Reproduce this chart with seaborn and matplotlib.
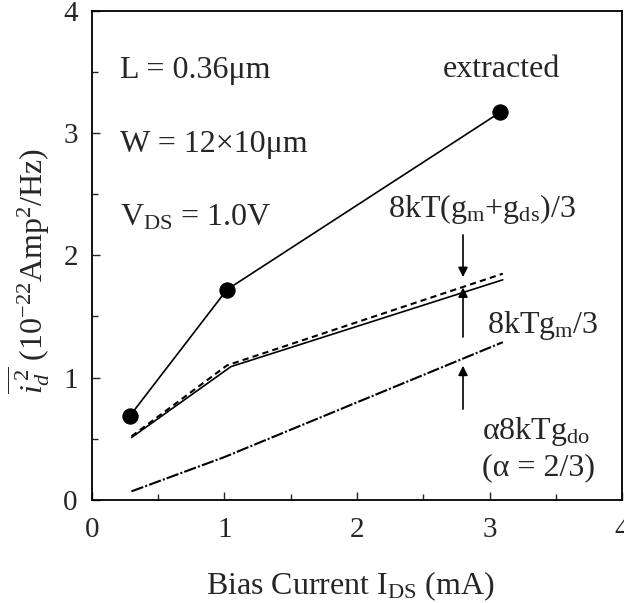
import numpy as np
import pandas as pd
import matplotlib
matplotlib.use("Agg")
import matplotlib.pyplot as plt
import seaborn as sns

# Data
ext_x = [0.29, 1.02, 3.08]
ext_y = [0.69, 1.72, 3.17]
gmgds_x = [0.30, 1.02, 3.10]
gmgds_y = [0.52, 1.10, 1.85]
gm_x = [0.30, 1.05, 3.10]
gm_y = [0.51, 1.09, 1.80]
gdo_x = [0.30, 1.00, 3.10]
gdo_y = [0.07, 0.35, 1.29]
xticks = [0, 1, 2, 3, 4]
yticks = [0, 1, 2, 3, 4]

sns.set_style("ticks")
plt.rcParams['font.family'] = ['Liberation Serif', 'DejaVu Serif']
plt.rcParams['mathtext.fontset'] = 'custom'
plt.rcParams['mathtext.rm'] = 'Liberation Serif'
plt.rcParams['mathtext.it'] = 'Liberation Serif:italic'
plt.rcParams['mathtext.bf'] = 'Liberation Serif:bold'

fig = plt.figure(figsize=(6.24, 6.03), dpi=100)
ax = fig.add_axes([0.147, 0.171, 0.850, 0.811])

df_ext = pd.DataFrame({'x': ext_x, 'y': ext_y})
df_a = pd.DataFrame({'x': gmgds_x, 'y': gmgds_y})
df_b = pd.DataFrame({'x': gm_x, 'y': gm_y})
df_c = pd.DataFrame({'x': gdo_x, 'y': gdo_y})

sns.lineplot(data=df_ext, x='x', y='y', ax=ax, color='black', lw=1.2,
             marker='o', markersize=11, markeredgecolor='black', sort=False)
sns.lineplot(data=df_a, x='x', y='y', ax=ax, color='black', lw=1.5,
             linestyle=(0, (3, 2)), sort=False)
sns.lineplot(data=df_b, x='x', y='y', ax=ax, color='black', lw=1.2, sort=False)
sns.lineplot(data=df_c, x='x', y='y', ax=ax, color='black', lw=1.5,
             linestyle=(0, (6, 1, 1, 1)), sort=False)

ax.set_xlim(0, 4)
ax.set_ylim(0, 4)
ax.set_xticks(xticks)
ax.set_yticks(yticks)
ax.set_xticks(np.arange(0.5, 4, 1), minor=True)
ax.set_yticks(np.arange(0.5, 4, 1), minor=True)
ax.tick_params(which='both', direction='in', top=False, right=False, labelsize=21)
ax.tick_params(axis='x', pad=12)
ax.tick_params(axis='y', pad=10)
ax.tick_params(which='major', length=6, width=1)
ax.tick_params(which='minor', length=4, width=1)
for s in ax.spines.values():
    s.set_linewidth(1.3)
    s.set_color('black')

ax.set_xlabel(r'Bias Current I$_{\mathrm{DS}}$ (mA)', fontsize=23)
ax.xaxis.set_label_coords(0.487, -0.143)
ax.set_ylabel(r'$\overline{i_d^{\,2}}$ (10$^{-22}$Amp$^2$/Hz)', fontsize=23)
ax.yaxis.set_label_coords(-0.075, (500 - 271) / 489)

fs = 23
ax.text(0.21, 3.51, 'L = 0.36μm', fontsize=fs, va='center', ha='left')
ax.text(0.21, 2.91, 'W = 12×10μm', fontsize=fs, va='center', ha='left')
ax.text(0.21, 2.31, r'V$_{\mathrm{DS}}$ = 1.0V', fontsize=fs, va='center', ha='left')
ax.text(3.09, 3.52, 'extracted', fontsize=fs, va='center', ha='center')
ax.text(2.94, 2.38, r'8kT(g$_{\mathrm{m}}$+g$_{\mathrm{ds}}$)/3', fontsize=fs, va='center', ha='center')
ax.text(2.98, 1.43, r'8kTg$_{\mathrm{m}}$/3', fontsize=fs, va='center', ha='left')
ax.text(2.94, 0.56, r'α8kTg$_{\mathrm{do}}$', fontsize=fs, va='center', ha='left')
ax.text(2.94, 0.26, '(α = 2/3)', fontsize=fs, va='center', ha='left')

arrow = dict(arrowstyle='-|>', color='black', lw=1.2, mutation_scale=14)
ax.annotate('', xy=(2.8, 1.80), xytext=(2.8, 2.19), arrowprops=arrow)
ax.annotate('', xy=(2.8, 1.76), xytext=(2.8, 1.31), arrowprops=arrow)
ax.annotate('', xy=(2.8, 1.12), xytext=(2.8, 0.72), arrowprops=arrow)

fig.savefig('out.png', dpi=100)
